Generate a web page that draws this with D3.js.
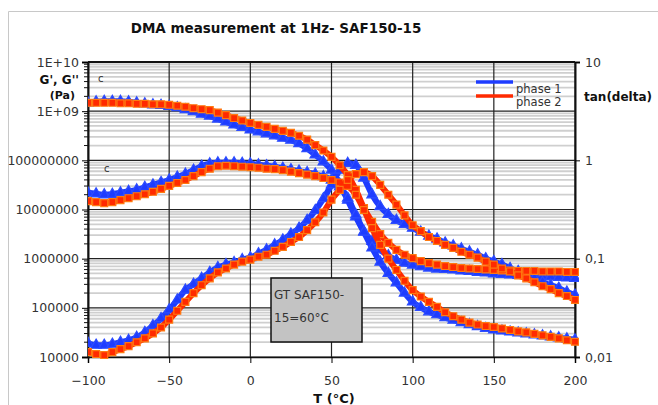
<!DOCTYPE html>
<html><head><meta charset="utf-8">
<script src="https://cdn.jsdelivr.net/npm/d3@7"></script>
<style>body{margin:0;background:#fff}svg{display:block}</style>
</head><body>
<svg id="c" width="658" height="405"></svg>
<script>
const temps = [-100,-95,-90,-85,-80,-75,-70,-65,-60,-55,-50,-45,-40,-35,-30,-25,-20,-15,-10,-5,0,5,10,15,20,25,30,35,40,45,50,55,60,65,70,75,80,85,90,95,100,105,110,115,120,125,130,135,140,145,150,155,160,165,170,175,180,185,190,195,200];
// log10 of G' (Pa)
const gPrime1Log = [9.17,9.19,9.2,9.2,9.2,9.19,9.17,9.15,9.13,9.12,9.10,9.07,9.03,8.99,8.94,8.90,8.84,8.78,8.72,8.67,8.62,8.58,8.54,8.50,8.45,8.41,8.34,8.24,8.11,7.97,7.80,7.52,7.19,6.85,6.55,6.35,6.18,6.06,5.97,5.91,5.87,5.84,5.81,5.79,5.78,5.77,5.75,5.74,5.72,5.71,5.69,5.68,5.67,5.66,5.66,5.65,5.64,5.63,5.62,5.61,5.60];
const gPrime2Log = [9.17,9.17,9.17,9.17,9.16,9.16,9.15,9.15,9.14,9.14,9.13,9.11,9.09,9.06,9.04,9.02,8.97,8.92,8.86,8.81,8.76,8.72,8.68,8.64,8.60,8.56,8.50,8.42,8.31,8.20,8.07,7.90,7.70,7.40,7.03,6.75,6.50,6.32,6.18,6.08,6.01,5.95,5.91,5.88,5.85,5.83,5.81,5.80,5.79,5.78,5.77,5.76,5.76,5.75,5.75,5.75,5.74,5.74,5.74,5.73,5.73];
// log10 of G'' (Pa)
const gSecond1Log = [7.34,7.32,7.30,7.31,7.34,7.37,7.40,7.45,7.50,7.55,7.60,7.66,7.72,7.80,7.88,7.93,7.95,7.95,7.95,7.94,7.93,7.91,7.89,7.87,7.84,7.81,7.78,7.75,7.72,7.67,7.60,7.46,7.23,6.89,6.54,6.22,5.93,5.70,5.51,5.30,5.12,5.01,4.92,4.86,4.80,4.75,4.70,4.66,4.62,4.58,4.55,4.53,4.51,4.49,4.47,4.45,4.43,4.41,4.39,4.37,4.35];
const gSecond2Log = [7.17,7.15,7.13,7.15,7.19,7.23,7.27,7.31,7.36,7.42,7.48,7.54,7.60,7.68,7.76,7.83,7.88,7.89,7.88,7.87,7.86,7.85,7.83,7.82,7.80,7.77,7.74,7.71,7.68,7.64,7.60,7.55,7.48,7.30,6.99,6.62,6.28,6.00,5.77,5.55,5.36,5.23,5.12,5.02,4.91,4.83,4.76,4.70,4.66,4.63,4.61,4.58,4.55,4.52,4.50,4.47,4.44,4.41,4.38,4.34,4.31];
// log10 of tan(delta)
const tanDelta1Log = [-1.86,-1.88,-1.88,-1.87,-1.85,-1.83,-1.80,-1.75,-1.68,-1.61,-1.52,-1.42,-1.32,-1.26,-1.20,-1.14,-1.09,-1.06,-1.04,-1.01,-0.99,-0.95,-0.91,-0.86,-0.81,-0.75,-0.69,-0.61,-0.51,-0.39,-0.25,-0.10,-0.03,-0.05,-0.18,-0.35,-0.47,-0.55,-0.61,-0.65,-0.69,-0.73,-0.77,-0.80,-0.84,-0.87,-0.90,-0.93,-0.96,-1.00,-1.03,-1.06,-1.10,-1.13,-1.17,-1.20,-1.24,-1.27,-1.30,-1.34,-1.37];
const tanDelta2Log = [-1.95,-1.97,-1.98,-1.95,-1.92,-1.89,-1.85,-1.81,-1.76,-1.70,-1.62,-1.53,-1.44,-1.35,-1.27,-1.20,-1.14,-1.10,-1.06,-1.03,-1.01,-0.98,-0.96,-0.92,-0.88,-0.83,-0.78,-0.71,-0.63,-0.53,-0.40,-0.30,-0.20,-0.14,-0.12,-0.16,-0.25,-0.35,-0.45,-0.56,-0.66,-0.72,-0.78,-0.82,-0.86,-0.89,-0.93,-0.96,-0.99,-1.03,-1.06,-1.10,-1.13,-1.17,-1.20,-1.24,-1.28,-1.31,-1.35,-1.38,-1.42];

const xTicks = [-100,-50,0,50,100,150,200];
const leftTicks = [1e4,1e5,1e6,1e7,1e8,1e9,1e10];
const leftTickLabels = ["10000","100000","1000000","10000000","100000000","1E+09","1E+10"];
const rightTicks = [0.01,0.1,1,10];
const rightTickLabels = ["0,01","0,1","1","10"];
const seriesNames = ["phase 1","phase 2"];
const title = "DMA measurement at 1Hz- SAF150-15";

const svg = d3.select("#c");
const L = 88, R = 575, T = 62, B = 357;
const x = d3.scaleLinear().domain([-100,200]).range([L,R]);
const yL = d3.scaleLog().domain([1e4,1e10]).range([B,T]);
const yR = d3.scaleLog().domain([0.01,10]).range([B,T]);
const font = "'DejaVu Sans', sans-serif";

// outer frame
svg.append("path").attr("d",`M8.5,405 V11.5 H658`).attr("fill","none").attr("stroke","#c8c8c8");

// title
svg.append("text").attr("x",276).attr("y",33).attr("text-anchor","middle")
  .attr("font-family",font).attr("font-weight","bold").attr("font-size",13.5).attr("fill","#111").text(title);

// minor gridlines (left log minors)
const minors = [];
for (let e=4;e<10;e++) for (let m=2;m<=9;m++) minors.push(m*Math.pow(10,e));
svg.append("g").selectAll("line").data(minors).join("line")
  .attr("x1",L).attr("x2",R).attr("y1",d=>yL(d)).attr("y2",d=>yL(d))
  .attr("stroke","#cfcfcf").attr("stroke-width",1.8);

// major gridlines
svg.append("g").selectAll("line").data(leftTicks).join("line")
  .attr("x1",L).attr("x2",R).attr("y1",d=>yL(d)).attr("y2",d=>yL(d))
  .attr("stroke","#222").attr("stroke-width",1.2);
svg.append("g").selectAll("line").data(xTicks).join("line")
  .attr("x1",d=>x(d)).attr("x2",d=>x(d)).attr("y1",T).attr("y2",B)
  .attr("stroke","#222").attr("stroke-width",1.2);

// axes
const xAxis = svg.append("g").attr("transform",`translate(0,${B})`)
  .call(d3.axisBottom(x).tickValues(xTicks).tickSize(6).tickFormat(d3.format("d")));
xAxis.select(".domain").attr("stroke","#111").attr("stroke-width",1.5);
xAxis.selectAll("text").attr("font-family",font).attr("font-size",12.5).attr("fill","#333").attr("dy","1.55em");

const yAxisL = svg.append("g").attr("transform",`translate(${L},0)`)
  .call(d3.axisLeft(yL).tickValues(leftTicks).tickSize(6).tickFormat((d,i)=>leftTickLabels[i]));
yAxisL.select(".domain").attr("stroke","#111").attr("stroke-width",2);
yAxisL.selectAll("text").attr("font-family",font).attr("font-size",12.5).attr("fill","#333").attr("x",-9);
svg.append("g").selectAll("line").data(minors).join("line")
  .attr("x1",L-4).attr("x2",L).attr("y1",d=>yL(d)).attr("y2",d=>yL(d)).attr("stroke","#111");

const yAxisR = svg.append("g").attr("transform",`translate(${R},0)`)
  .call(d3.axisRight(yR).tickValues(rightTicks).tickSize(5).tickFormat((d,i)=>rightTickLabels[i]));
yAxisR.select(".domain").attr("stroke","#111").attr("stroke-width",2);
yAxisR.selectAll("text").attr("font-family",font).attr("font-size",12.5).attr("fill","#333").attr("x",10);
// top border
svg.append("line").attr("x1",L).attr("x2",R).attr("y1",T).attr("y2",T).attr("stroke","#111").attr("stroke-width",2);

// axis titles
svg.append("text").attr("x",79).attr("y",84).attr("text-anchor","end").attr("font-family",font)
  .attr("font-weight","bold").attr("font-size",12).attr("fill","#111").text("G', G''");
svg.append("text").attr("x",75).attr("y",99).attr("text-anchor","end").attr("font-family",font)
  .attr("font-weight","bold").attr("font-size",11).attr("fill","#111").text("(Pa)");
svg.append("text").attr("x",584).attr("y",101).attr("font-family",font)
  .attr("font-weight","bold").attr("font-size",12).attr("fill","#111").text("tan(delta)");
svg.append("text").attr("x",334).attr("y",403).attr("text-anchor","middle").attr("font-family",font)
  .attr("font-weight","bold").attr("font-size",13).attr("fill","#111").text("T (°C)");

// stray marks
svg.append("text").attr("x",98).attr("y",82).attr("font-family",font).attr("font-size",10).attr("fill","#333").text("c");
svg.append("text").attr("x",104).attr("y",172).attr("font-family",font).attr("font-size",10).attr("fill","#333").text("c");

// data series
svg.append("clipPath").attr("id","pc").append("rect").attr("x",L).attr("y",T-4).attr("width",R-L+4).attr("height",B-T+8);
const plot = svg.append("g").attr("clip-path","url(#pc)");
const phases = [
  {name:seriesNames[0], color:"#1e3cff", edge:"#2d4dff", sym:d3.symbolTriangle, sets:[[gPrime1Log,yL],[gSecond1Log,yL],[tanDelta1Log,yR]]},
  {name:seriesNames[1], color:"#ff2a00", edge:"#ff7a10", sym:d3.symbolSquare, sets:[[gPrime2Log,yL],[gSecond2Log,yL],[tanDelta2Log,yR]]}
];
phases.forEach(p=>{
  p.sets.forEach(([arr,sc])=>{
    const pts = temps.map((t,i)=>[x(t), sc(Math.pow(10,arr[i]))]);
    plot.append("path").attr("d",d3.line().curve(d3.curveMonotoneX)(pts))
      .attr("fill","none").attr("stroke",p.color).attr("stroke-width",6).attr("stroke-linejoin","round");
    plot.append("g").selectAll("path").data(pts).join("path")
      .attr("transform",d=>`translate(${d[0]},${d[1]})`)
      .attr("d",d3.symbol().type(p.sym).size(48))
      .attr("fill",p.color).attr("stroke",p.edge).attr("stroke-width",1.2);
  });
});

// legend
const lg = svg.append("g");
[0,1].forEach(i=>{
  lg.append("line").attr("x1",476).attr("x2",513).attr("y1",82+i*14).attr("y2",82+i*14)
    .attr("stroke",phases[i].color).attr("stroke-width",3.5);
  lg.append("text").attr("x",516).attr("y",93+i*13).attr("font-family",font).attr("font-size",11.5)
    .attr("fill","#333").text(seriesNames[i]);
});

// annotation box
svg.append("rect").attr("x",271).attr("y",278).attr("width",91).attr("height",64)
  .attr("fill","#c3c3c3").attr("stroke","#111").attr("stroke-width",1.5);
svg.append("text").attr("x",274).attr("y",299).attr("font-family",font).attr("font-size",12).attr("fill","#333").text("GT SAF150-");
svg.append("text").attr("x",274).attr("y",322).attr("font-family",font).attr("font-size",12).attr("fill","#333").text("15=60°C");
</script>
</body></html>
